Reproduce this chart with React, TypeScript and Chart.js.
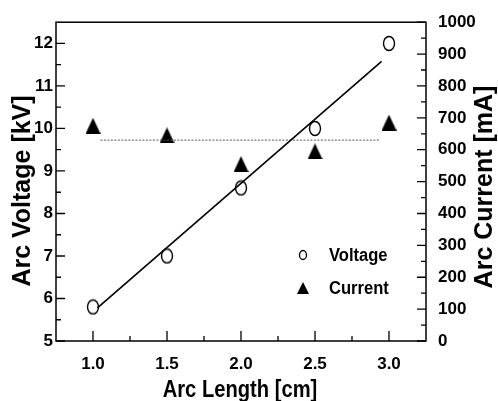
import React, { useEffect, useRef } from "react";
import { Chart, registerables } from "chart.js";

Chart.register(...registerables);

const arcLength = [1.0, 1.5, 2.0, 2.5, 3.0];
const voltage = [5.8, 7.0, 8.6, 10.0, 12.0];
const current = [675, 645, 555, 595, 685];
const fitLength = [1.03, 2.95];
const fitVoltage = [5.78, 11.58];
const meanLength = [1.05, 2.94];
const meanCurrent = [630, 630];
const xTicks = [1.0, 1.5, 2.0, 2.5, 3.0];
const xMinor = [1.25, 1.75, 2.25, 2.75];
const voltageTicks = [5, 6, 7, 8, 9, 10, 11, 12];
const voltageMinor = [5.5, 6.5, 7.5, 8.5, 9.5, 10.5, 11.5, 12.0];
const currentTicks = [0, 100, 200, 300, 400, 500, 600, 700, 800, 900, 1000];
const currentMinor = [50, 150, 250, 350, 450, 550, 650, 750, 850, 950];
const legendLabels = ["Voltage", "Current"];
const xTitle = "Arc Length [cm]";
const yTitle = "Arc Voltage [kV]";
const y1Title = "Arc Current [mA]";

const FAMILY = "'Liberation Sans', Arial, sans-serif";

function ellipseImg(w: number, h: number, lw: number) {
  const c = document.createElement("canvas");
  c.width = Math.ceil(w + lw * 2);
  c.height = Math.ceil(h + lw * 2);
  const ctx = c.getContext("2d")!;
  ctx.strokeStyle = "#000";
  ctx.lineWidth = lw;
  ctx.beginPath();
  ctx.ellipse(c.width / 2, c.height / 2, w / 2, h / 2, 0, 0, Math.PI * 2);
  ctx.stroke();
  return c;
}

function triangleImg(w: number, h: number) {
  const c = document.createElement("canvas");
  c.width = w;
  c.height = h;
  const ctx = c.getContext("2d")!;
  ctx.fillStyle = "#000";
  ctx.beginPath();
  ctx.moveTo(w / 2, 0);
  ctx.lineTo(w, h);
  ctx.lineTo(0, h);
  ctx.closePath();
  ctx.fill();
  return c;
}

function condensedText(ctx: CanvasRenderingContext2D, text: string, x: number, y: number, sx: number) {
  ctx.save();
  ctx.translate(x, y);
  ctx.scale(sx, 1);
  ctx.fillText(text, 0, 0);
  ctx.restore();
}

export default function App() {
  const ref = useRef<HTMLCanvasElement>(null);

  useEffect(() => {
    const canvas = ref.current;
    if (!canvas) return;
    const circle = ellipseImg(11, 14, 1.4);
    const tri = triangleImg(15, 16);
    const legCircle = ellipseImg(7, 9, 1.3);
    const legTri = triangleImg(12, 12);

    const framePlugin = {
      id: "frame",
      afterDraw(chart: any) {
        const { ctx, chartArea: a, scales } = chart;
        ctx.save();
        ctx.strokeStyle = "#000";
        ctx.lineWidth = 1.5;
        ctx.strokeRect(a.left, a.top, a.right - a.left, a.bottom - a.top);
        ctx.lineWidth = 1.3;
        ctx.beginPath();
        xTicks.forEach((v) => {
          const px = scales.x.getPixelForValue(v);
          ctx.moveTo(px, a.bottom);
          ctx.lineTo(px, a.bottom - 10);
        });
        xMinor.forEach((v) => {
          const px = scales.x.getPixelForValue(v);
          ctx.moveTo(px, a.bottom);
          ctx.lineTo(px, a.bottom - 5);
        });
        voltageTicks.forEach((v) => {
          const py = scales.y.getPixelForValue(v);
          ctx.moveTo(a.left, py);
          ctx.lineTo(a.left + 9, py);
        });
        voltageMinor.forEach((v) => {
          const py = scales.y.getPixelForValue(v);
          ctx.moveTo(a.left, py);
          ctx.lineTo(a.left + 5, py);
        });
        currentTicks.forEach((v) => {
          const py = scales.y1.getPixelForValue(v);
          ctx.moveTo(a.right, py);
          ctx.lineTo(a.right - 9, py);
        });
        currentMinor.forEach((v) => {
          const py = scales.y1.getPixelForValue(v);
          ctx.moveTo(a.right, py);
          ctx.lineTo(a.right - 5, py);
        });
        ctx.stroke();

        // titles
        ctx.fillStyle = "#000";
        ctx.textAlign = "center";
        ctx.textBaseline = "middle";
        ctx.font = `bold 24px ${FAMILY}`;
        condensedText(ctx, xTitle, (a.left + a.right) / 2 - 1, 390, 0.84);
        ctx.font = `bold 25px ${FAMILY}`;
        ctx.save();
        ctx.translate(23, 191);
        ctx.rotate(-Math.PI / 2);
        ctx.fillText(yTitle, 0, 0);
        ctx.restore();
        ctx.save();
        ctx.translate(485, 187);
        ctx.rotate(-Math.PI / 2);
        ctx.fillText(y1Title, 0, 0);
        ctx.restore();

        // legend
        ctx.drawImage(legCircle, 303 - legCircle.width / 2, 255 - legCircle.height / 2);
        ctx.drawImage(legTri, 303 - legTri.width / 2, 288 - legTri.height / 2);
        ctx.font = `bold 18px ${FAMILY}`;
        ctx.textAlign = "left";
        condensedText(ctx, legendLabels[0], 329, 256, 0.92);
        condensedText(ctx, legendLabels[1], 329, 289, 0.92);
        ctx.restore();
      },
    };

    const tickFont = { family: FAMILY, size: 17, weight: "bold" as const };

    const chart = new Chart(canvas, {
      type: "scatter",
      data: {
        datasets: [
          {
            label: "fit",
            data: fitLength.map((x, i) => ({ x, y: fitVoltage[i] })),
            showLine: true,
            borderColor: "#000",
            borderWidth: 1.6,
            pointRadius: 0,
            yAxisID: "y",
          },
          {
            label: "mean",
            data: meanLength.map((x, i) => ({ x, y: meanCurrent[i] })),
            showLine: true,
            borderColor: "#555",
            borderWidth: 1,
            borderDash: [2, 1.5],
            pointRadius: 0,
            yAxisID: "y1",
          },
          {
            label: legendLabels[0],
            data: arcLength.map((x, i) => ({ x, y: voltage[i] })),
            pointStyle: circle as any,
            pointRadius: 7,
            yAxisID: "y",
          },
          {
            label: legendLabels[1],
            data: arcLength.map((x, i) => ({ x, y: current[i] })),
            pointStyle: tri as any,
            pointRadius: 8,
            yAxisID: "y1",
          },
        ],
      },
      options: {
        animation: false,
        responsive: false,
        devicePixelRatio: 1,
        layout: { padding: { top: 11, left: 0, right: 0, bottom: 0 } },
        plugins: { legend: { display: false }, tooltip: { enabled: false } },
        scales: {
          x: {
            type: "linear",
            min: 0.75,
            max: 3.25,
            afterBuildTicks: (s: any) => {
              s.ticks = xTicks.map((value) => ({ value }));
            },
            afterFit: (s: any) => {
              s.height = 60;
            },
            ticks: {
              callback: (v: any) => Number(v).toFixed(1),
              font: tickFont,
              color: "#000",
              padding: 13,
              maxRotation: 0,
            },
            grid: { display: false, drawTicks: false },
            border: { display: false },
          },
          y: {
            type: "linear",
            position: "left",
            min: 5,
            max: 12.5,
            afterBuildTicks: (s: any) => {
              s.ticks = voltageTicks.map((value) => ({ value }));
            },
            afterFit: (s: any) => {
              s.width = 56;
            },
            ticks: { font: tickFont, color: "#000", padding: 3, callback: (v: any) => String(v) },
            grid: { display: false, drawTicks: false },
            border: { display: false },
          },
          y1: {
            type: "linear",
            position: "right",
            min: 0,
            max: 1000,
            afterBuildTicks: (s: any) => {
              s.ticks = currentTicks.map((value) => ({ value }));
            },
            afterFit: (s: any) => {
              s.width = 72;
            },
            ticks: { font: tickFont, color: "#000", padding: 12, callback: (v: any) => String(v) },
            grid: { display: false, drawTicks: false },
            border: { display: false },
          },
        },
      },
      plugins: [framePlugin],
    });
    return () => chart.destroy();
  }, []);

  return (
    <div
      style={{
        position: "fixed",
        left: 0,
        top: 0,
        width: 498,
        height: 401,
        background: "#fff",
      }}
    >
      <canvas ref={ref} width={498} height={401} style={{ display: "block" }} />
    </div>
  );
}
